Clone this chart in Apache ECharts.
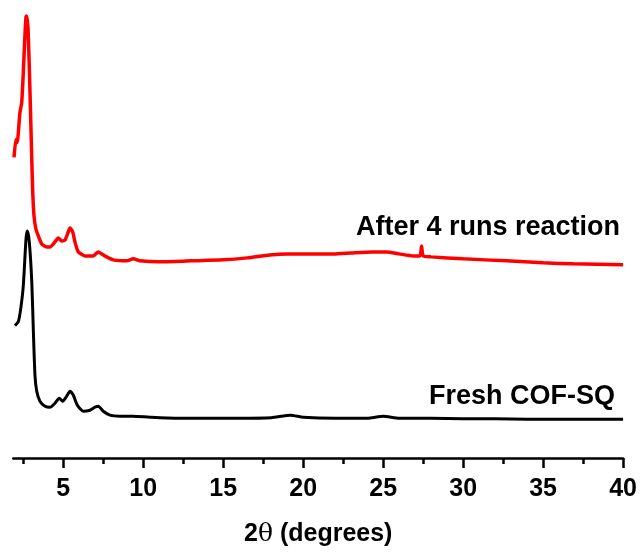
<!DOCTYPE html>
<html>
<head>
<meta charset="utf-8">
<script src="https://cdn.jsdelivr.net/npm/echarts@6/dist/echarts.min.js"></script>
<style>
  html, body { margin: 0; padding: 0; background: #fff; }
  #chart-xrd { width: 640px; height: 552px; }
</style>
</head>
<body>
<div id="chart-xrd"></div>
<script>
// 2θ tick positions
const majorTicks = [5, 10, 15, 20, 25, 30, 35, 40];
const minorTicks = [2.5, 7.5, 12.5, 17.5, 22.5, 27.5, 32.5, 37.5];

// Fresh COF-SQ (black), intensity in a.u.
const freshX = [1.98, 2.19, 2.34, 2.5, 2.67, 2.75, 2.875, 3.03, 3.13, 3.23, 3.34, 3.54, 3.86, 4.17, 4.48,
  4.75, 4.96, 5.21, 5.42, 5.63, 5.88, 6.25, 6.67, 6.98, 7.19, 7.5, 7.92, 8.54, 9.36, 10.4,
  12, 14, 16, 18, 19.2, 20, 22, 24, 25, 26, 28, 30, 32, 34, 36, 38, 40];
const freshY = [133, 137, 150, 173, 220, 228, 217, 177, 127, 83, 67, 57, 52, 51, 55,
  60, 57, 62, 67, 63, 53, 47, 48, 51, 52, 47, 43, 42, 42, 41,
  40, 40, 40, 40.5, 43, 41, 40, 40, 42, 40, 40, 39.5, 39.5, 39, 39, 39, 39];

// After 4 runs reaction (red)
const afterX = [1.92, 2.04, 2.125, 2.19, 2.29, 2.4, 2.5, 2.61, 2.67, 2.71, 2.79, 2.875, 2.96, 3.03, 3.09,
  3.17, 3.29, 3.44, 3.65, 3.96, 4.17, 4.48, 4.69, 4.9, 5.11, 5.31, 5.42, 5.59, 5.73, 5.94,
  6.36, 6.875, 7.19, 7.4, 7.71, 8.125, 8.96, 9.375, 9.79, 11, 13, 15, 16.5, 17.9, 19, 20,
  21.9, 23, 24.3, 25.2, 26, 26.9, 27.3, 27.4, 27.5, 28, 30, 32.7, 35, 36.9, 40];
const afterY = [302, 320, 317, 327, 347, 357, 387, 427, 443, 444, 433, 393, 343, 300, 267,
  243, 230, 223, 215, 212, 212, 217, 221, 218, 219, 227, 231, 227, 217, 207,
  203, 203, 207, 205, 202, 199, 198, 200, 198, 197, 198, 199, 201, 204, 205, 205,
  205, 206, 207, 207, 205, 203, 203, 213, 203, 202, 200, 198, 196, 195, 194];

const zip = (xs, ys) => xs.map((x, i) => [x, ys[i]]);

const myChart = echarts.init(document.getElementById("chart-xrd"));

const labelFont = "'Liberation Sans', Arial, sans-serif";

myChart.setOption({
  animation: false,
  grid: {
    left: 13.3,
    right: 16.7,
    top: 0,
    bottom: 92,
  },
  xAxis: [
    {
      type: "value",
      min: 1.875,
      max: 40,
      position: "bottom",
      splitLine: { show: false },
      axisLine: {
        show: true,
        lineStyle: { color: "#000", width: 2.5 },
      },
      axisTick: {
        show: true,
        customValues: majorTicks,
        length: 10,
        lineStyle: { color: "#000", width: 2.5 },
      },
      axisLabel: {
        customValues: majorTicks,
        margin: 19,
        color: "#000",
        fontSize: 25,
        fontWeight: "bold",
        fontFamily: labelFont,
      },
      name: "2{t|θ} (degrees)",
      nameLocation: "middle",
      nameGap: 64,
      nameTextStyle: {
        color: "#000",
        fontSize: 25,
        fontWeight: "bold",
        fontFamily: labelFont,
        rich: {
          t: {
            fontSize: 25,
            fontWeight: "normal",
            fontFamily: "'DejaVu Serif', serif",
            color: "#000",
          },
        },
      },
    },
    {
      // minor ticks only
      type: "value",
      min: 1.875,
      max: 40,
      position: "bottom",
      splitLine: { show: false },
      axisLine: { show: false },
      axisLabel: { show: false },
      axisTick: {
        show: true,
        customValues: minorTicks,
        length: 6,
        lineStyle: { color: "#000", width: 2.5 },
      },
    },
  ],
  yAxis: {
    type: "value",
    min: 0,
    max: 460,
    show: false,
  },
  graphic: [
    {
      type: "text",
      right: 20,
      top: 214,
      style: {
        text: "After 4 runs reaction",
        fill: "#000",
        font: "bold 27px " + labelFont,
      },
    },
    {
      type: "text",
      right: 25,
      top: 383,
      style: {
        text: "Fresh COF-SQ",
        fill: "#000",
        font: "bold 27px " + labelFont,
      },
    },
  ],
  series: [
    {
      name: "Fresh COF-SQ",
      type: "line",
      data: zip(freshX, freshY),
      showSymbol: false,
      smooth: 0.2,
      lineStyle: { color: "#000", width: 3 },
    },
    {
      name: "After 4 runs reaction",
      type: "line",
      data: zip(afterX, afterY),
      showSymbol: false,
      smooth: 0.2,
      lineStyle: { color: "#ff0000", width: 3.5 },
    },
  ],
});
</script>
</body>
</html>
